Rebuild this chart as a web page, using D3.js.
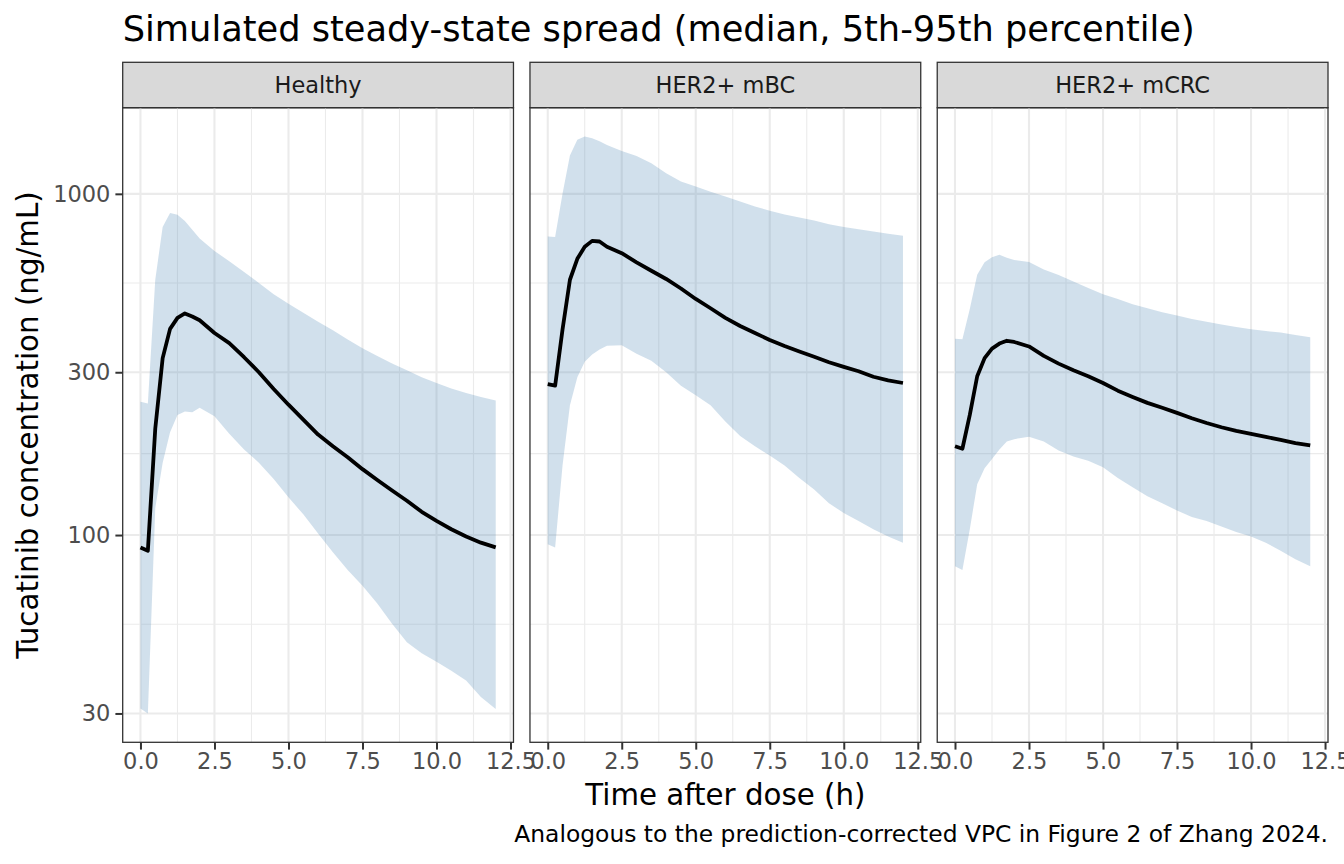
<!DOCTYPE html>
<html>
<head>
<meta charset="utf-8">
<script src="https://cdn.jsdelivr.net/npm/d3@7"></script>
<style>
  body { margin: 0; background: #fff; }
  text { font-family: "DejaVu Sans", sans-serif; }
</style>
</head>
<body>
<svg id="chart" width="1344" height="864"></svg>
<script>
// time grid (h) shared by all groups
const time = [0, 0.25, 0.5, 0.75, 1, 1.25, 1.5, 1.75, 2, 2.5, 3, 3.5, 4, 4.5, 5, 5.5, 6, 6.5, 7, 7.5, 8, 8.5, 9, 9.5, 10, 10.5, 11, 11.5, 12];

const groups = ['Healthy', 'HER2+ mBC', 'HER2+ mCRC'];

// median, 5th and 95th percentile per group (ng/mL)
const healthyMedian = [92, 90, 205, 330, 402, 433, 446, 437, 426, 391, 365, 332, 300, 268, 241, 218, 197, 182, 169, 156, 145, 135, 126, 117, 110, 104, 99, 95, 92];
const healthyP95 = [246, 243, 560, 800, 878, 868, 832, 785, 740, 680, 635, 590, 548, 508, 476, 448, 422, 398, 374, 353, 335, 318, 304, 290, 279, 269, 261, 254, 248];
const healthyP5 = [31, 30, 120, 163, 200, 225, 230, 229, 236, 223, 198, 178, 163, 146, 129, 115, 101, 89, 79, 71, 63, 55, 48.5, 45, 42.5, 40, 37.5, 33.5, 30.9];

const mbcMedian = [277, 274, 400, 560, 645, 700, 728, 725, 700, 670, 630, 595, 563, 528, 492, 462, 433, 410, 391, 373, 358, 345, 333, 321, 311, 302, 291, 284, 279];
const mbcP95 = [750, 747, 1000, 1295, 1440, 1472, 1455, 1425, 1390, 1335, 1290, 1230, 1150, 1086, 1050, 1015, 982, 950, 918, 892, 870, 852, 835, 815, 800, 788, 776, 764, 754];
const mbcP5 = [94, 92, 160, 240, 290, 322, 338, 350, 359, 360, 340, 324, 300, 274, 257, 240, 215, 195, 182, 171, 160, 147, 136, 124, 116, 110, 104, 99, 95];

const mcrcMedian = [182, 179, 225, 292, 330, 352, 364, 371, 368, 357, 335, 318, 304, 292, 279, 265, 254, 244, 236, 228, 220, 213, 207, 202, 198, 194, 190, 186, 183];
const mcrcP95 = [376, 375, 460, 579, 630, 652, 663, 650, 640, 631, 600, 578, 553, 530, 508, 492, 475, 462, 450, 440, 430, 422, 414, 407, 401, 396, 392, 386, 380];
const mcrcP5 = [81, 79, 104, 141, 157, 167, 178, 188, 191, 194, 188, 177, 170, 165, 158, 147, 138, 130, 124, 118, 113, 110, 106, 102, 99, 95, 90, 85, 81];

const xTicks = [0, 2.5, 5, 7.5, 10, 12.5];
const yTicks = [30, 100, 300, 1000];

const medians = [healthyMedian, mbcMedian, mcrcMedian];
const p95s = [healthyP95, mbcP95, mcrcP95];
const p5s = [healthyP5, mbcP5, mcrcP5];

const svg = d3.select('svg#chart');

const layout = {
    left: 122.7,
    right: 1328,
    top: 107.7,
    bottom: 742.3,
    stripTop: 62.3,
    spacing: 16.5,
};
const panelW = (layout.right - layout.left - 2 * layout.spacing) / 3;

const grid = '#ebebeb';
const dark = '#333333';

// x: ggplot style 5% expansion
const tExt = d3.extent(time);
const tPad = (tExt[1] - tExt[0]) * 0.05;
const x = d3.scaleLinear()
    .domain([tExt[0] - tPad, tExt[1] + tPad])
    .range([0, panelW]);

// y: log10 with 5% expansion in log space
const allVals = [].concat(...p95s, ...p5s, ...medians);
const lo = Math.log10(d3.min(allVals));
const hi = Math.log10(d3.max(allVals));
const yPad = (hi - lo) * 0.05;
const y = d3.scaleLog()
    .domain([Math.pow(10, lo - yPad), Math.pow(10, hi + yPad)])
    .range([layout.bottom, layout.top]);

const xMinor = d3.pairs(xTicks).map(p => (p[0] + p[1]) / 2);
const yMinor = d3.pairs(yTicks).map(p => Math.sqrt(p[0] * p[1]));

const panelH = layout.bottom - layout.top;

groups.forEach((name, i) => {
    const px = layout.left + i * (panelW + layout.spacing);
    const g = svg.append('g').attr('transform', 'translate(' + px + ',0)');

    // strip
    g.append('rect')
        .attr('x', 0).attr('y', layout.stripTop)
        .attr('width', panelW).attr('height', layout.top - layout.stripTop)
        .attr('fill', '#d9d9d9').attr('stroke', dark).attr('stroke-width', 1.3);
    g.append('text')
        .attr('x', panelW / 2)
        .attr('y', (layout.stripTop + layout.top) / 2 + 8)
        .attr('text-anchor', 'middle')
        .attr('font-size', 22.5)
        .attr('fill', '#1a1a1a')
        .text(name);

    // grid
    g.selectAll('line.xminor').data(xMinor).enter().append('line')
        .attr('x1', d => x(d)).attr('x2', d => x(d))
        .attr('y1', layout.top).attr('y2', layout.bottom)
        .attr('stroke', grid).attr('stroke-width', 1.1);
    g.selectAll('line.yminor').data(yMinor).enter().append('line')
        .attr('x1', 0).attr('x2', panelW)
        .attr('y1', d => y(d)).attr('y2', d => y(d))
        .attr('stroke', grid).attr('stroke-width', 1.1);
    g.selectAll('line.xmajor').data(xTicks.filter(d => x(d) <= panelW)).enter().append('line')
        .attr('x1', d => x(d)).attr('x2', d => x(d))
        .attr('y1', layout.top).attr('y2', layout.bottom)
        .attr('stroke', grid).attr('stroke-width', 2.1);
    g.selectAll('line.ymajor').data(yTicks).enter().append('line')
        .attr('x1', 0).attr('x2', panelW)
        .attr('y1', d => y(d)).attr('y2', d => y(d))
        .attr('stroke', grid).attr('stroke-width', 2.1);

    // ribbon 5th-95th
    const rows = time.map((t, k) => ({ t: t, lo: p5s[i][k], hi: p95s[i][k], med: medians[i][k] }));
    const area = d3.area()
        .x(d => x(d.t))
        .y0(d => y(d.lo))
        .y1(d => y(d.hi));
    g.append('path').datum(rows)
        .attr('d', area)
        .attr('fill', 'steelblue')
        .attr('fill-opacity', 0.25);

    const line = d3.line()
        .x(d => x(d.t))
        .y(d => y(d.med));
    g.append('path').datum(rows)
        .attr('d', line)
        .attr('fill', 'none')
        .attr('stroke', '#000')
        .attr('stroke-width', 3.8)
        .attr('stroke-linejoin', 'round');

    // border
    g.append('rect')
        .attr('x', 0).attr('y', layout.top)
        .attr('width', panelW).attr('height', panelH)
        .attr('fill', 'none').attr('stroke', dark).attr('stroke-width', 1.3);

    // x axis
    const xaxis = g.append('g')
        .attr('transform', 'translate(0,' + layout.bottom + ')')
        .call(d3.axisBottom(x).tickValues(xTicks).tickFormat(d3.format('.1f')).tickSize(7.3).tickPadding(3));
    xaxis.select('.domain').remove();
    xaxis.selectAll('line').attr('stroke', dark).attr('stroke-width', 2);
    xaxis.selectAll('text')
        .attr('font-size', 22.5)
        .attr('fill', '#4d4d4d')
        .attr('font-family', '"DejaVu Sans", sans-serif');

    // y axis on first panel only
    if (i === 0) {
        const yaxis = g.append('g')
            .call(d3.axisLeft(y).tickValues(yTicks).tickFormat(d3.format('d')).tickSize(7.3).tickPadding(5));
        yaxis.select('.domain').remove();
        yaxis.selectAll('line').attr('stroke', dark).attr('stroke-width', 2);
        yaxis.selectAll('text')
            .attr('font-size', 22.5)
            .attr('fill', '#4d4d4d')
            .attr('font-family', '"DejaVu Sans", sans-serif');
    }
});

// titles
svg.append('text')
    .attr('x', layout.left).attr('y', 41)
    .attr('font-size', 35.2)
    .attr('fill', '#000')
    .text('Simulated steady-state spread (median, 5th-95th percentile)');

svg.append('text')
    .attr('x', (layout.left + layout.right) / 2).attr('y', 805)
    .attr('text-anchor', 'middle')
    .attr('font-size', 29.3)
    .attr('fill', '#000')
    .text('Time after dose (h)');

svg.append('text')
    .attr('transform', 'translate(38,' + (layout.top + layout.bottom) / 2 + ') rotate(-90)')
    .attr('text-anchor', 'middle')
    .attr('font-size', 29.3)
    .attr('fill', '#000')
    .text('Tucatinib concentration (ng/mL)');

svg.append('text')
    .attr('x', layout.right).attr('y', 842)
    .attr('text-anchor', 'end')
    .attr('font-size', 23.4)
    .attr('fill', '#000')
    .text('Analogous to the prediction-corrected VPC in Figure 2 of Zhang 2024.');
</script>
</body>
</html>
